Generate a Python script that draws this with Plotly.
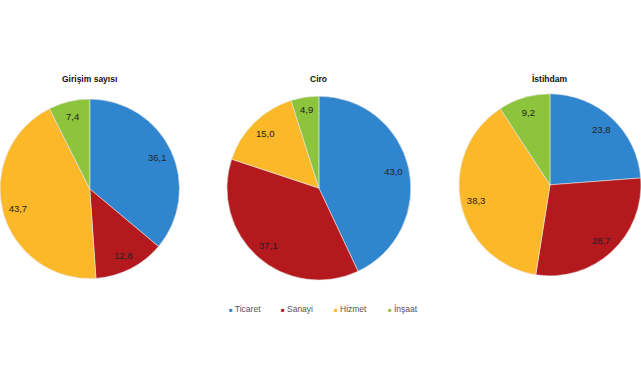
import plotly.graph_objects as go

categories = ["Ticaret", "Sanayi", "Hizmet", "İnşaat"]
titles = ["Girişim sayısı", "Ciro", "İstihdam"]
girisim = [36.1, 12.8, 43.7, 7.4]
ciro = [43.0, 37.1, 15.0, 4.9]
istihdam = [23.8, 28.7, 38.3, 9.2]
series = [girisim, ciro, istihdam]

colors = ["#2f86cf", "#b3191d", "#fbb829", "#8cc43c"]
domains = [
    dict(x=[0.0, 0.28], y=[0.263, 0.743]),
    dict(x=[0.354, 0.641], y=[0.263, 0.747]),
    dict(x=[0.716, 1.0], y=[0.274, 0.753]),
]

fig = go.Figure()
for i, vals in enumerate(series):
    # filled slices
    fig.add_trace(go.Pie(
        labels=categories, values=vals, textinfo="none",
        sort=False, direction="clockwise", rotation=0,
        marker=dict(colors=colors, line=dict(color="#e6e6e6", width=0.6)),
        domain=domains[i], showlegend=False, hoverinfo="label+value",
    ))
    # value labels placed near the rim
    fig.add_trace(go.Pie(
        labels=categories, values=vals, hole=0.66,
        text=[f"{v:.1f}".replace(".", ",") for v in vals],
        textinfo="text", textposition="inside",
        insidetextorientation="horizontal",
        textfont=dict(family="Liberation Sans, Arial", size=9.5, color="#222"),
        sort=False, direction="clockwise", rotation=0,
        marker=dict(colors=["rgba(0,0,0,0)"] * 4, line=dict(width=0)),
        domain=domains[i], showlegend=False, hoverinfo="skip",
    ))

title_x = [0.139, 0.497, 0.858]
for t, x in zip(titles, title_x):
    fig.add_annotation(text=f"<b>{t}</b>", x=x, y=0.792, xref="paper", yref="paper",
                       showarrow=False, xanchor="center", yanchor="middle",
                       font=dict(family="Liberation Sans, Arial", size=8.5, color="#111"))

legend_x = [0.354, 0.435, 0.518, 0.602]
for name, col, x in zip(categories, colors, legend_x):
    fig.add_annotation(
        text=f"<span style='color:{col};font-size:6px'>■</span> {name}",
        x=x, y=0.187, xref="paper", yref="paper", showarrow=False,
        xanchor="left", yanchor="middle",
        font=dict(family="Liberation Sans Narrow, Liberation Sans, Arial", size=8.5, color="#555"))

fig.update_layout(
    width=641, height=380,
    margin=dict(l=0, r=0, t=0, b=0),
    paper_bgcolor="white", plot_bgcolor="white",
    showlegend=False,
)
fig.write_html("out.html", config={"displayModeBar": False},
               post_script="document.body.style.margin='0';")
